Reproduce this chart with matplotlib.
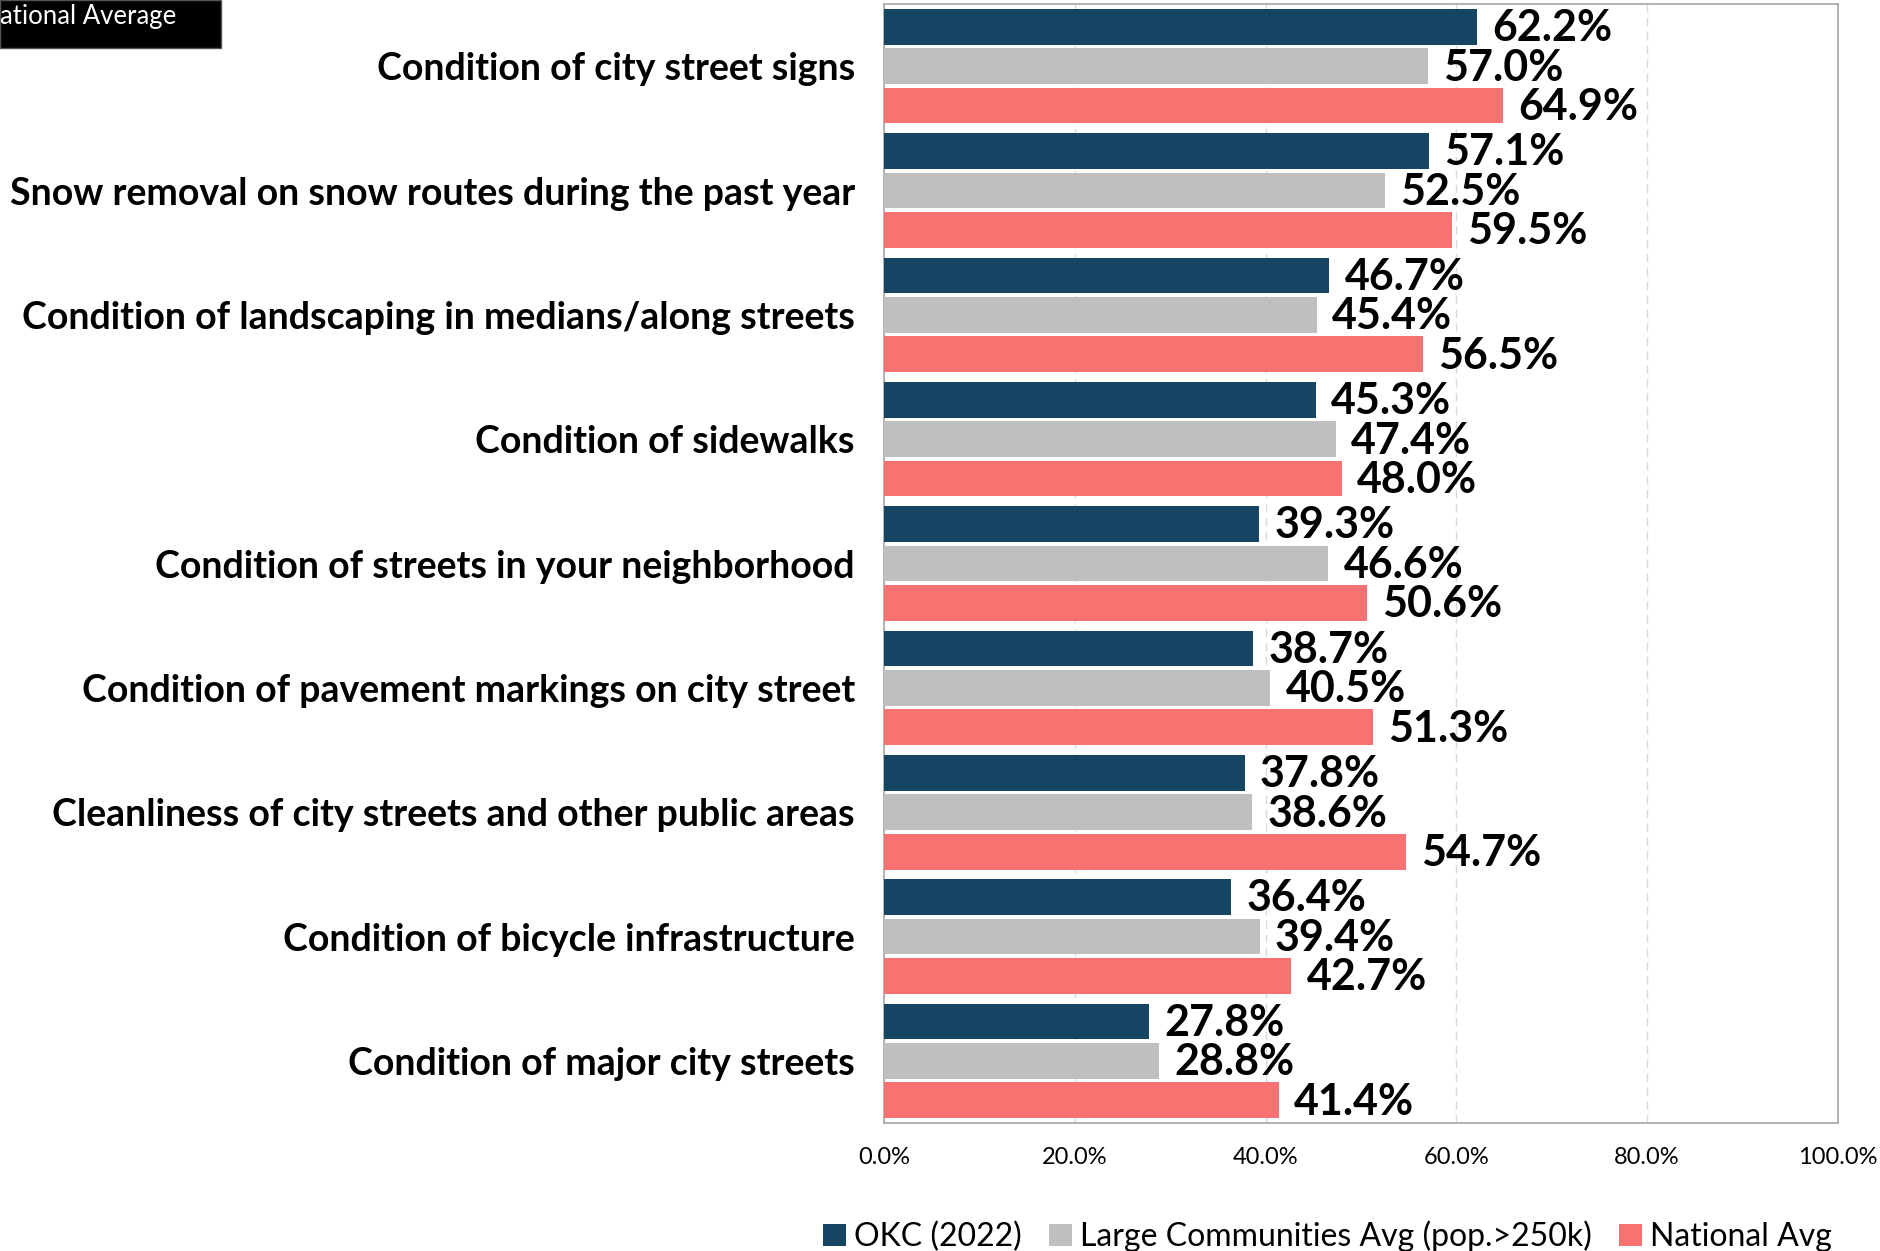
import matplotlib
matplotlib.use("Agg")
import matplotlib.pyplot as plt
from matplotlib.patches import Rectangle
import numpy as np

categories = [
    "Condition of city street signs",
    "Snow removal on snow routes during the past year",
    "Condition of landscaping in medians/along streets",
    "Condition of sidewalks",
    "Condition of streets in your neighborhood",
    "Condition of pavement markings on city street",
    "Cleanliness of city streets and other public areas",
    "Condition of bicycle infrastructure",
    "Condition of major city streets",
]
okc = [62.2, 57.1, 46.7, 45.3, 39.3, 38.7, 37.8, 36.4, 27.8]
large = [57.0, 52.5, 45.4, 47.4, 46.6, 40.5, 38.6, 39.4, 28.8]
national = [64.9, 59.5, 56.5, 48.0, 50.6, 51.3, 54.7, 42.7, 41.4]
series_names = ["OKC (2022)", "Large Communities Avg (pop.>250k)", "National Avg"]
xticks = [0, 20, 40, 60, 80, 100]
title_text = "ational Average"

colors = ["#164564", "#bfbfbf", "#f87272"]

plt.rcParams['font.family'] = ['Lato', 'DejaVu Sans']

fig = plt.figure(figsize=(18.81, 12.51), dpi=100)
ax = fig.add_axes([0.470, 0.1023, 0.507, 0.8945])

y = np.arange(len(categories))
pitch = 0.317
h = 0.288
for k, (vals, c) in enumerate(zip([okc, large, national], colors)):
    pos = y + (k - 1) * pitch
    bars = ax.barh(pos, vals, height=h, color=c, label=series_names[k], zorder=3)
    for b, v in zip(bars, vals):
        ax.annotate(f"{v:.1f}%", xy=(b.get_width(), b.get_y() + b.get_height() / 2),
                    xytext=(11, -1), textcoords="offset points", ha="left", va="center",
                    fontsize=31, fontweight="bold", color="black", zorder=4)

ax.set_xlim(0, 100)
ax.set_ylim(8.5, -0.5)
ax.set_xticks(xticks)
ax.set_xticklabels([f"{t:.1f}%" for t in xticks], fontsize=17)
ax.set_yticks(y)
ax.set_yticklabels(categories, fontsize=27, fontweight="bold")
ax.tick_params(axis="both", length=0)
ax.tick_params(axis="y", pad=21)
ax.tick_params(axis="x", pad=17)
ax.xaxis.grid(True, linestyle=(0, (6, 4)), color="#d9d9d9", linewidth=1, zorder=0)
for s in ax.spines.values():
    s.set_color("#a6a6a6")
    s.set_linewidth(1.2)

handles, labels = ax.get_legend_handles_labels()
fig.legend(handles, labels, loc="lower right", bbox_to_anchor=(0.989, -0.024), ncol=3,
           frameon=False, fontsize=23, handlelength=0.72, handleheight=0.72,
           handletextpad=0.25, columnspacing=0.85)

fig.patches.append(Rectangle((0, 0.9616), 0.1175, 0.0384, transform=fig.transFigure,
                             facecolor="black", edgecolor="#555555", zorder=5))
fig.text(0.0, 0.997, title_text, color="white", fontsize=18.5, ha="left", va="top", zorder=6)

fig.savefig("out.png", dpi=100)
